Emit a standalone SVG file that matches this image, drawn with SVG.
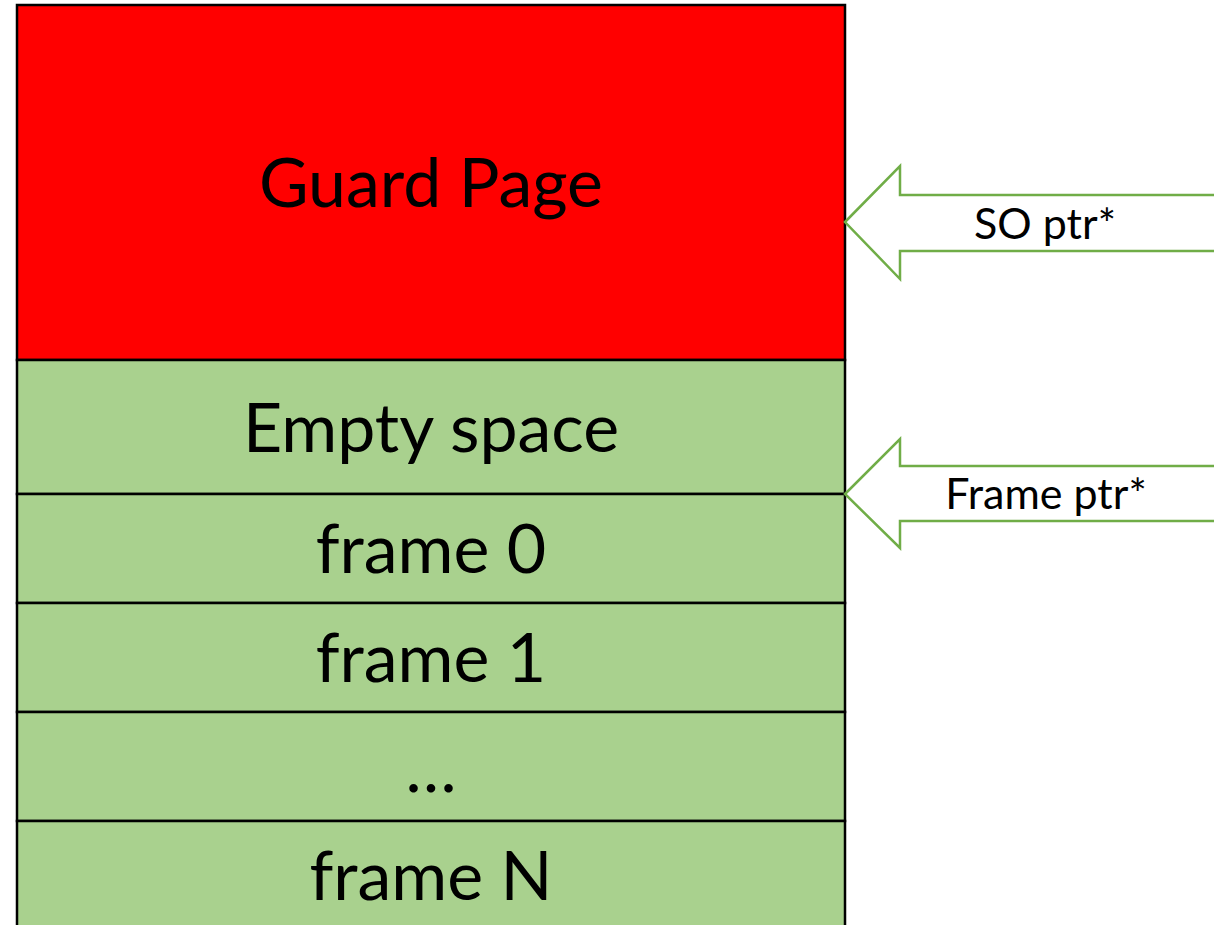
<svg xmlns="http://www.w3.org/2000/svg" width="1214" height="925" viewBox="0 0 1214 925">
  <style>
    .cell { stroke: #000000; stroke-width: 2.5; }
    .guard { fill: #ff0000; }
    .stack { fill: #a9d18e; }
    .big { font-family: Lato, "Open Sans", "Liberation Sans", sans-serif; font-size: 68px; fill: #000000; text-anchor: middle; }
    .ptr { fill: #ffffff; stroke: #70ad47; stroke-width: 2.5; stroke-linejoin: miter; }
    .ptrlabel { font-family: Lato, "Open Sans", "Liberation Sans", sans-serif; font-size: 43px; fill: #000000; text-anchor: middle; }
  </style>
  <rect width="1214" height="925" fill="#ffffff"/>

  <g id="guard-page">
    <rect class="cell guard" x="17" y="5" width="828" height="355"/>
    <text class="big" x="431" y="207">Guard Page</text>
  </g>
  <g id="empty-space">
    <rect class="cell stack" x="17" y="360" width="828" height="134"/>
    <text class="big" x="431" y="452">Empty space</text>
  </g>
  <g id="frame-0">
    <rect class="cell stack" x="17" y="494" width="828" height="109"/>
    <text class="big" x="431" y="573">frame 0</text>
  </g>
  <g id="frame-1">
    <rect class="cell stack" x="17" y="603" width="828" height="109"/>
    <text class="big" x="431" y="682">frame 1</text>
  </g>
  <g id="frame-gap">
    <rect class="cell stack" x="17" y="712" width="828" height="109"/>
    <text class="big" x="431" y="792">…</text>
  </g>
  <g id="frame-n">
    <rect class="cell stack" x="17" y="821" width="828" height="120"/>
    <text class="big" x="431" y="900">frame N</text>
  </g>

  <g id="connectors">
    <g id="so-ptr">
      <path class="ptr" d="M845 222 L900 166 L900 195 L1216 195 L1216 251 L900 251 L900 279 Z"/>
      <text class="ptrlabel" x="1045" y="239">SO ptr*</text>
    </g>
    <g id="frame-ptr">
      <path class="ptr" d="M845 494 L900 439 L900 466 L1216 466 L1216 521 L900 521 L900 548 Z"/>
      <text class="ptrlabel" x="1046" y="509">Frame ptr*</text>
    </g>
  </g>
</svg>
